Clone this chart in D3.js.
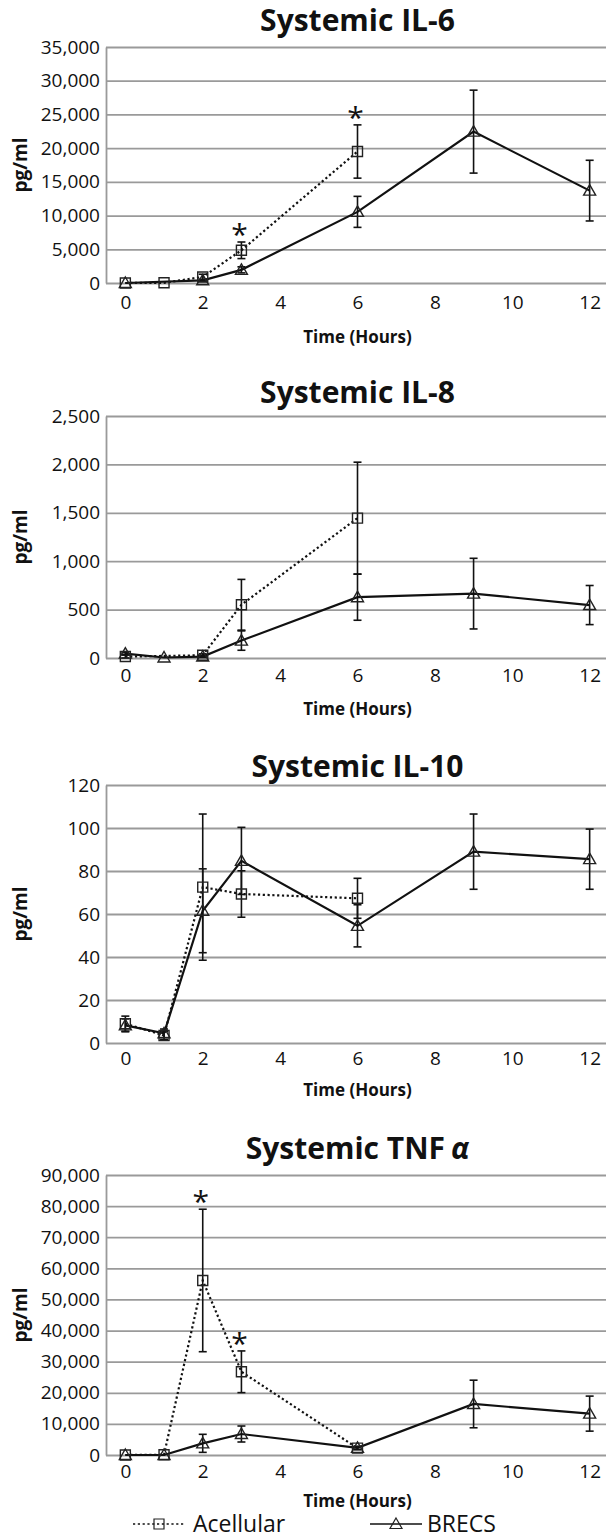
<!DOCTYPE html>
<html>
<head>
<meta charset="utf-8">
<script src="https://cdn.jsdelivr.net/npm/d3@7"></script>
<style>
  html, body { margin: 0; padding: 0; background: #ffffff; }
  svg { display: block; }
</style>
</head>
<body>
<div id="chart"></div>
<script>
// ---------- data ----------
const times = [0, 1, 2, 3, 6, 9, 12];
const xTicks = [0, 2, 4, 6, 8, 10, 12];
const seriesNames = ["Acellular", "BRECS"];

// Systemic IL-6
const il6Acellular    = [0, 30, 900, 4850, 19500, null, null];
const il6AcellularErr = [0, 0, 400, 1230, 3950, null, null];
const il6Brecs        = [0, null, 400, 1950, 10550, 22450, 13700];
const il6BrecsErr     = [0, null, 150, 450, 2300, 6150, 4500];
const il6Ticks        = [0, 5000, 10000, 15000, 20000, 25000, 30000, 35000];
const il6Stars        = [3, 6];

// Systemic IL-8
const il8Acellular    = [15, null, 28, 550, 1445, null, null];
const il8AcellularErr = [15, null, 15, 262, 578, null, null];
const il8Brecs        = [45, 5, 15, 180, 628, 665, 547];
const il8BrecsErr     = [10, 0, 10, 100, 238, 365, 202];
const il8Ticks        = [0, 500, 1000, 1500, 2000, 2500];
const il8Stars        = [];

// Systemic IL-10
const il10Acellular    = [9, 3.5, 72.5, 69.3, 67.3, null, null];
const il10AcellularErr = [3.5, 2, 34, 10.8, 9.3, null, null];
const il10Brecs        = [8.2, 4.5, 61.5, 84.7, 54.5, 89, 85.5];
const il10BrecsErr     = [3, 2, 19.5, 15.6, 9.8, 17.5, 14];
const il10Ticks        = [0, 20, 40, 60, 80, 100, 120];
const il10Stars        = [];

// Systemic TNF alpha
const tnfAcellular    = [0, 100, 56100, 26750, 2200, null, null];
const tnfAcellularErr = [0, 0, 22900, 6700, 500, null, null];
const tnfBrecs        = [0, 0, 3750, 6750, 2300, 16400, 13300];
const tnfBrecsErr     = [0, 0, 2900, 2570, 500, 7650, 5630];
const tnfTicks        = [0, 10000, 20000, 30000, 40000, 50000, 60000, 70000, 80000, 90000];
const tnfStars        = [2, 3];

const titles = ["Systemic IL-6", "Systemic IL-8", "Systemic IL-10", "Systemic TNF"];
const yLabel = "pg/ml";
const xLabel = "Time (Hours)";

// ---------- layout ----------
const W = 606, H = 1539;
const plotLeft = 106, plotRight = 609;
const FONT = "'Open Sans', 'Noto Sans', sans-serif";
const INK = "#111";
const GRID = "#9a9a9a";

const panels = [
  { title: titles[0], acell: il6Acellular, acellErr: il6AcellularErr, brecs: il6Brecs, brecsErr: il6BrecsErr, ticks: il6Ticks, stars: il6Stars,
    top: 47, bottom: 283, titleY: 31, xPad: 13, xTitleY: 343 },
  { title: titles[1], acell: il8Acellular, acellErr: il8AcellularErr, brecs: il8Brecs, brecsErr: il8BrecsErr, ticks: il8Ticks, stars: il8Stars,
    top: 416, bottom: 658, titleY: 403, xPad: 11, xTitleY: 715 },
  { title: titles[2], acell: il10Acellular, acellErr: il10AcellularErr, brecs: il10Brecs, brecsErr: il10BrecsErr, ticks: il10Ticks, stars: il10Stars,
    top: 785, bottom: 1043, titleY: 777, xPad: 9, xTitleY: 1096 },
  { title: titles[3], acell: tnfAcellular, acellErr: tnfAcellularErr, brecs: tnfBrecs, brecsErr: tnfBrecsErr, ticks: tnfTicks, stars: tnfStars,
    top: 1175, bottom: 1455, titleY: 1159, xPad: 10, xTitleY: 1507, alpha: true }
];

const svg = d3.select("#chart").append("svg")
  .attr("width", W).attr("height", H)
  .style("font-family", FONT);

const x = d3.scaleLinear().domain([-0.5, 12.5]).range([plotLeft, plotRight]);

const squarePath = "M-5,-5H5V5H-5Z";
const trianglePath = "M0,-6L6,4.5L-6,4.5Z";

function pts(vals, errs) {
  return times.map((t, i) => ({ t, v: vals[i], e: errs[i] })).filter(d => d.v != null);
}

panels.forEach(p => {
  const g = svg.append("g");
  const y = d3.scaleLinear().domain([0, d3.max(p.ticks)]).range([p.bottom, p.top]);

  // y axis with gridlines
  const yAxis = d3.axisLeft(y).tickValues(p.ticks)
    .tickFormat(d3.format(","))
    .tickSizeInner(-(plotRight - plotLeft)).tickSizeOuter(0).tickPadding(6);
  const ya = g.append("g").attr("transform", `translate(${plotLeft},0)`).call(yAxis);
  ya.selectAll(".tick line").attr("stroke", GRID).attr("stroke-width", 1.8);
  ya.select(".domain").attr("stroke", GRID).attr("stroke-width", 1.8);
  ya.selectAll("text").attr("font-size", "19px").attr("fill", INK).style("font-family", FONT);

  // x axis labels
  const xAxis = d3.axisBottom(x).tickValues(xTicks).tickSize(0).tickPadding(p.xPad);
  const xa = g.append("g").attr("transform", `translate(0,${p.bottom})`).call(xAxis);
  xa.select(".domain").remove();
  xa.selectAll("text").attr("font-size", "19px").attr("fill", INK).style("font-family", FONT);

  // title
  const cx = (plotLeft + plotRight) / 2;
  const t = g.append("text").attr("x", cx).attr("y", p.titleY)
    .attr("text-anchor", "middle").attr("font-weight", "bold")
    .attr("font-size", "30px").attr("fill", INK).text(p.title);
  if (p.alpha) {
    t.append("tspan").attr("dx", 6).attr("font-style", "italic").text("α");
  }

  // y label
  g.append("text")
    .attr("transform", `translate(27,${(p.top + p.bottom) / 2}) rotate(-90)`)
    .attr("text-anchor", "middle").attr("font-weight", "bold")
    .attr("font-size", "19px").attr("fill", INK).text(yLabel);

  // x label
  g.append("text").attr("x", cx).attr("y", p.xTitleY)
    .attr("text-anchor", "middle").attr("font-weight", "bold")
    .attr("font-size", "17px").attr("fill", INK).text(xLabel);

  const series = [
    { name: seriesNames[0], data: pts(p.acell, p.acellErr), dash: "2.2,2.6", marker: squarePath },
    { name: seriesNames[1], data: pts(p.brecs, p.brecsErr), dash: null, marker: trianglePath }
  ];

  const line = d3.line().x(d => x(d.t)).y(d => y(d.v));

  series.forEach(s => {
    const eb = g.append("g").attr("stroke", INK).attr("stroke-width", 1.6);
    s.data.filter(d => d.e > 0).forEach(d => {
      const xx = x(d.t), y1 = y(d.v + d.e), y2 = y(Math.max(0, d.v - d.e));
      eb.append("line").attr("x1", xx).attr("x2", xx).attr("y1", y1).attr("y2", y2);
      eb.append("line").attr("x1", xx - 4).attr("x2", xx + 4).attr("y1", y1).attr("y2", y1);
      eb.append("line").attr("x1", xx - 4).attr("x2", xx + 4).attr("y1", y2).attr("y2", y2);
    });
  });

  series.forEach(s => {
    g.append("path").datum(s.data).attr("d", line)
      .attr("fill", "none").attr("stroke", INK).attr("stroke-width", 2.2)
      .attr("stroke-dasharray", s.dash);
  });

  series.forEach(s => {
    g.append("g").selectAll("path").data(s.data).join("path")
      .attr("d", s.marker)
      .attr("transform", d => `translate(${x(d.t)},${y(d.v)})`)
      .attr("fill", "none").attr("stroke", "#222").attr("stroke-width", 1.4);
  });

  // significance stars (Acellular)
  const acData = series[0].data;
  p.stars.forEach(tm => {
    const d = acData.find(a => a.t === tm);
    g.append("text").attr("x", x(tm) - 2).attr("y", y(d.v + d.e) + 3)
      .attr("text-anchor", "middle").attr("font-size", "30px").attr("fill", INK)
      .text("*");
  });
});

// ---------- legend ----------
const legY = 1524;
const leg = svg.append("g");
const legendItems = [
  { name: seriesNames[0], x1: 133, x2: 185, dash: "2.2,2.6", marker: squarePath, tx: 193 },
  { name: seriesNames[1], x1: 370, x2: 422, dash: null, marker: trianglePath, tx: 427 }
];
legendItems.forEach(it => {
  leg.append("line").attr("x1", it.x1).attr("x2", it.x2).attr("y1", legY).attr("y2", legY)
    .attr("stroke", INK).attr("stroke-width", 1.6).attr("stroke-dasharray", it.dash);
  leg.append("path").attr("d", it.marker)
    .attr("transform", `translate(${(it.x1 + it.x2) / 2},${legY})`)
    .attr("fill", "none").attr("stroke", "#222").attr("stroke-width", 1.2);
  leg.append("text").attr("x", it.tx).attr("y", legY + 8)
    .attr("font-size", "23px").attr("fill", INK).text(it.name);
});
</script>
</body>
</html>
